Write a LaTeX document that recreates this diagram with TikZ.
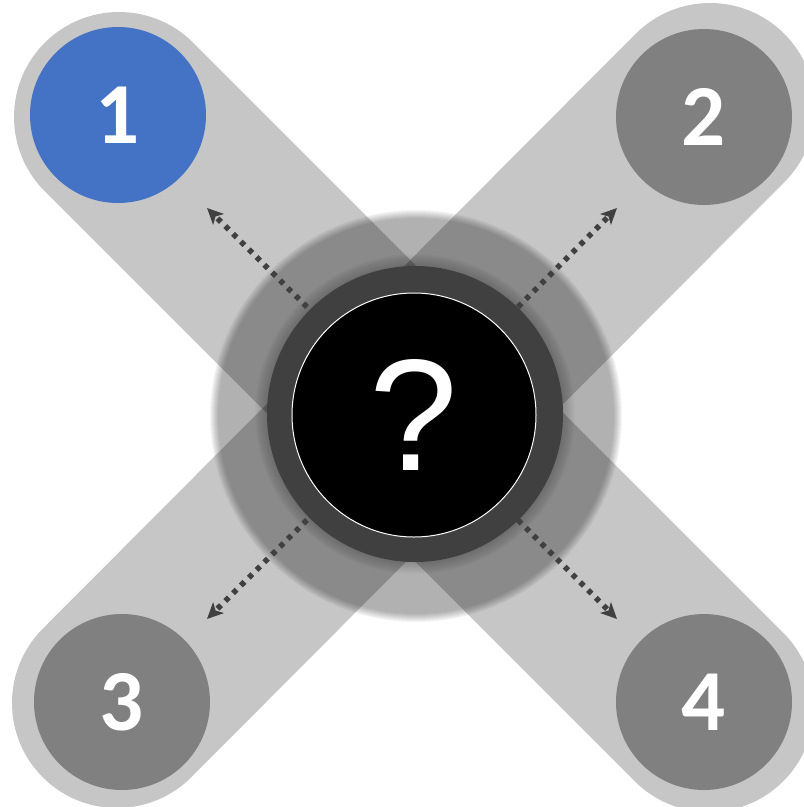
\documentclass[tikz,border=0pt]{standalone}
\usepackage{fontspec}
\setmainfont{Carlito}
\newfontfamily\qfont{Liberation Sans}
\usetikzlibrary{arrows.meta}
\definecolor{blueA}{HTML}{4472C4}
\definecolor{grayA}{HTML}{808080}
\definecolor{ringC}{HTML}{404040}
\begin{document}
\begin{tikzpicture}[x=1pt,y=-1pt,
  band/.style={draw=black, draw opacity=0.225, line width=210pt, line cap=round},
  numc/.style={circle, minimum size=176pt, inner sep=0pt, text=white,
    font=\fontsize{87}{87}\selectfont\bfseries},
  darr/.style={draw=ringC, line width=5.5pt, dash pattern=on 5pt off 6pt,
    -{Stealth[length=16pt,width=15pt,inset=4pt]}}]
\useasboundingbox (0,0) rectangle (804,807);
% bands
\coordinate (b1s) at (119,117);
\coordinate (b1e) at (709,707);
\coordinate (b2s) at (710,108);
\coordinate (b2e) at (117,703);
\draw[band] (b1s) -- (b1e);
\draw[band] (b2s) -- (b2e);
% central circles
\node[circle, minimum size=404pt, inner sep=0pt] (halo) at (416,416) {};
\foreach \r in {198,...,206} \fill[black, opacity=0.0388] (halo.center) circle (\r);
\foreach \r in {149,...,160} \fill[black, opacity=0.02] (415,414) circle (\r);
\node[circle, fill=ringC, minimum size=296pt, inner sep=0pt] (ring) at (415,414) {};
\node[circle, fill=black, draw=white, line width=1pt, minimum size=244pt, inner sep=0pt,
  text=white, font=\qfont\fontsize{159}{159}\selectfont] (q) at (414,415) {?};
% numbered circles
\node[numc, fill=blueA] (n1) at (118,115) {1};
\node[numc, fill=grayA] (n2) at (704,117) {2};
\node[numc, fill=grayA] (n3) at (122,702) {3};
\node[numc, fill=grayA] (n4) at (704,702) {4};
% arrows
\coordinate (a1s) at (307,307); \coordinate (a1e) at (207,208);
\coordinate (a2s) at (518,307); \coordinate (a2e) at (617,208);
\coordinate (a3s) at (307,520); \coordinate (a3e) at (207,619);
\coordinate (a4s) at (518,520); \coordinate (a4e) at (617,619);
\draw[darr] (a1s) -- (a1e);
\draw[darr] (a2s) -- (a2e);
\draw[darr] (a3s) -- (a3e);
\draw[darr] (a4s) -- (a4e);
\end{tikzpicture}
\end{document}
